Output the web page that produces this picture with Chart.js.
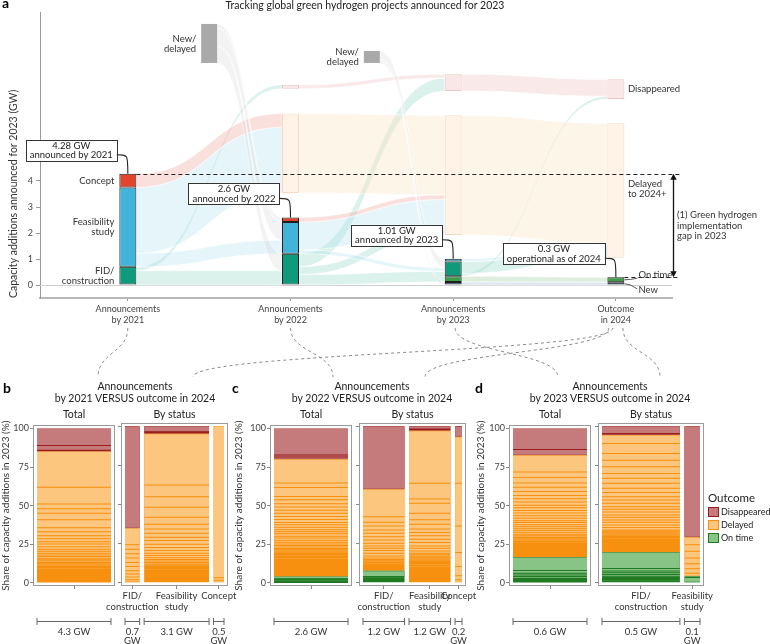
<!DOCTYPE html>
<html><head><meta charset="utf-8">
<script src="https://cdn.jsdelivr.net/npm/chart.js@4.4.1/dist/chart.umd.min.js"></script>
<style>
html,body{margin:0;padding:0;background:#fff;}
#wrap{position:relative;width:770px;height:644px;overflow:hidden;font-family:Lato,'DejaVu Sans',sans-serif;color:#222;}
canvas{position:absolute;left:0;}
.t{position:absolute;white-space:nowrap;line-height:1;}
</style></head><body><div id="wrap">
<canvas id="top" width="770" height="644" style="top:0"></canvas>
<canvas id="bT" width="770" height="225" style="top:419px"></canvas>
<canvas id="bS" width="770" height="225" style="top:419px"></canvas>
<canvas id="cT" width="770" height="225" style="top:419px"></canvas>
<canvas id="cS" width="770" height="225" style="top:419px"></canvas>
<canvas id="dT" width="770" height="225" style="top:419px"></canvas>
<canvas id="dS" width="770" height="225" style="top:419px"></canvas>
</div>
<script>
// ================= Panel a data (GW) =================
const columnLabels = [['Announcements','by 2021'],['Announcements','by 2022'],['Announcements','by 2023'],['Outcome','in 2024']];
const yTicksGW = [0,1,2,3,4,5];
// stacked bar segments, bottom to top: [stage, GW]
const bar2021 = [['fid',0.70],['feas',3.05],['concept',0.53]];
const bar2022 = [['fid',1.20],['feas',1.22],['concept',0.18]];
const bar2023 = [['new',0.12],['ontime',0.22],['fid',0.56],['feas',0.11]];
const bar2024 = [['new',0.11],['ontime',0.19]];
const barCaptions = [['4.28 GW','announced by 2021'],['2.6 GW','announced by 2022'],['1.01 GW','announced by 2023'],['0.3 GW','operational as of 2024']];
// pools: [column, from GW, to GW]
const delayedPool = [[1,3.54,6.60],[2,1.92,6.53],[3,1.05,6.22]];
const disappearedPool = [[1,7.55,7.70],[2,7.46,8.11],[3,7.15,7.91]];
const newDelayedPool = [[0.5,8.54,10.04],[1.5,8.54,9.00]];
const gapTopGW = 4.28, gapBottomGW = 0.3;
// flows: [from column, from lo, from hi, to column, to lo, to hi, kind]
const flows = [
 [0,0.00,0.55, 1,0.00,0.55,'fid'],
 [0,0.55,0.70, 1,7.55,7.70,'fid'],
 [0,0.70,1.22, 1,1.20,1.72,'feas'],
 [0,1.22,3.75, 1,3.54,6.07,'feas'],
 [0,3.75,4.28, 1,6.07,6.60,'concept'],
 [0.5,8.54,9.19, 1,0.55,1.20,'newdel'],
 [0.5,9.19,9.89, 1,1.72,2.42,'newdel'],
 [0.5,9.89,10.04, 1,2.42,2.60,'newdel'],
 [1,0.00,0.40, 2,0.12,0.52,'fid'],
 [1,0.40,0.70, 2,1.92,2.22,'fid'],
 [1,0.70,1.20, 2,7.46,7.96,'fid'],
 [1,1.20,1.35, 2,0.52,0.67,'feas'],
 [1,1.35,2.42, 2,2.22,3.29,'feas'],
 [1,2.42,2.60, 2,3.29,3.47,'concept'],
 [1,3.54,6.60, 2,3.47,6.53,'delayed'],
 [1,7.55,7.70, 2,7.96,8.11,'disappeared'],
 [1.5,8.54,8.66, 2,0.00,0.12,'newdel'],
 [1.5,8.66,9.00, 2,0.67,1.01,'newdel'],
 [2,0.00,0.12, 3,0.00,0.11,'new'],
 [2,0.12,0.34, 3,0.11,0.30,'ontime'],
 [2,0.34,0.45, 3,7.15,7.26,'fid'],
 [2,0.45,0.90, 3,1.05,1.50,'fid'],
 [2,0.90,1.01, 3,1.50,1.61,'feas'],
 [2,1.92,6.53, 3,1.61,6.22,'delayed'],
 [2,7.46,8.11, 3,7.26,7.91,'disappeared']
];

// ================= Panels b-d data (% shares, segments listed top to bottom) =================
const shareTicks = [0,25,50,75,100];
const bTotal = {gw:4.3, disappeared:[11.0,3.0,0.5,0.4],
  delayed:[23.1,10.8,3.0,2.9,4.3,5.1,2.7,2.6,1.9,1.9,1.5,1.7,1.7,1.3,1.2,1.1,1.0,1.1,1.0,0.9,0.9,0.8,0.8,0.8,0.7,0.7,0.7,0.6,0.6,0.6,0.6,0.5,0.5,0.5,0.5,0.5,0.4,0.4,0.4,0.4,0.4,0.3,0.3,0.3,0.3,0.3,0.3],
  onTime:[]};
const bFID = {gw:0.7, label:['FID/','construction'], disappeared:[65.2],
  delayed:[10.5,2.8,2.9,2.8,2.8,2.5,2.8,2.1,1.9,1.7,1.4,0.6], onTime:[]};
const bFeas = {gw:3.1, label:['Feasibility','study'], disappeared:[3.6,0.7,0.6],
  delayed:[32.7,7.4,6.8,6.4,4.4,3.0,2.7,2.6,2.1,2.3,2.2,1.9,1.7,1.4,1.5,1.1,1.0,0.9,0.9,0.8,0.8,0.7,0.7,0.7,0.6,0.6,0.6,0.6,0.5,0.5,0.5,0.5,0.5,0.4,0.4,0.4,0.4,0.4,0.3,0.3,0.3,0.3,0.3],
  onTime:[]};
const bConcept = {gw:0.5, label:['Concept'], disappeared:[], delayed:[96.8,1.5,1.7], onTime:[]};

const cTotal = {gw:2.6, disappeared:[17.2,1.3,1.3],
  delayed:[15.5,2.8,5.9,2.1,2.5,2.2,2.1,1.9,2.1,1.9,1.9,1.5,1.7,1.5,1.4,1.3,1.5,1.2,1.5,1.2,1.1,1.0,1.0,0.9,0.9,0.8,0.8,0.8,0.7,0.7,0.7,0.7,0.7,0.6,0.6,0.6,0.6,0.6,0.6,0.5,0.5,0.5,0.5,0.5,0.5,0.5,0.5,0.5,0.4,0.4,0.4,0.4,0.4,0.4,0.4,0.4],
  onTime:[1.5,0.7,0.7,0.7,0.6]};
const cFID = {gw:1.2, label:['FID/','construction'], disappeared:[40.3],
  delayed:[17.5,3.6,2.3,2.5,2.1,2.2,2.1,2.1,1.7,1.5,1.5,1.7,1.7,1.4,0.9,0.8,0.8,0.7,0.7,0.7,0.6,0.6,0.6,0.5,0.5,0.4,0.3],
  onTime:[3.7,0.7,0.7,0.6,0.6,0.7,0.7]};
const cFeas = {gw:1.2, label:['Feasibility','study'], disappeared:[1.8,0.6,0.6],
  delayed:[33.5,10.0,2.7,6.4,4.2,2.8,3.0,2.3,2.1,2.2,2.1,2.1,1.5,1.7,1.5,1.0,0.9,0.9,0.8,0.8,0.8,0.7,0.7,0.7,0.7,0.7,0.7,0.6,0.6,0.6,0.6,0.6,0.6,0.6,0.5,0.5,0.5,0.5,0.5,0.5,0.5,0.4,0.4,0.4,0.3,0.3],
  onTime:[]};
const cConcept = {gw:0.2, label:['Concept'], disappeared:[6.8], delayed:[29.7,27.2,17.0,8.8,6.0,2.5,2.0], onTime:[]};

const dTotal = {gw:0.6, disappeared:[13.6,3.8],
  delayed:[10.7,3.6,3.6,2.7,2.8,2.6,2.1,2.1,2.1,1.7,1.7,1.7,1.7,1.7,1.5,1.2,1.5,1.3,1.3,1.2,1.3,1.3,0.9,0.9,0.8,0.8,0.8,0.7,0.7,0.7,0.7,0.6,0.6,0.6,0.6,0.6,0.5,0.5,0.5,0.5,0.5,0.5,0.4,0.4,0.4,0.4],
  onTime:[8.5,1.9,1.1,1.0,1.1,0.6,0.6,0.6,0.6,0.6]};
const dFID = {gw:0.5, label:['FID/','construction'], disappeared:[4.7,1.0],
  delayed:[5.4,6.3,4.3,4.2,4.3,3.1,3.2,3.2,2.6,2.7,2.1,2.1,2.2,1.7,1.7,1.9,1.5,1.7,1.5,1.7,1.5,1.6,0.9,0.9,0.8,0.8,0.8,0.7,0.7,0.7,0.7,0.6,0.6,0.6,0.6,0.6,0.6,0.5,0.5,0.5,0.5,0.5,0.4,0.4,0.4],
  onTime:[10.4,1.6,1.1,1.1,1.1,0.7,0.7,0.7,0.7,0.7,0.7]};
const dFeas = {gw:0.1, label:['Feasibility','study'], disappeared:[70.9], delayed:[4.8,4.2,4.3,3.6,3.2,2.8,2.0], onTime:[0.7,3.5]};

// ================= styles =================
const FONT = "Lato, 'DejaVu Sans', sans-serif";
Chart.defaults.font.family = FONT;
Chart.defaults.color = '#333';
const stageFill = {fid:'#0f9a7c', feas:'#42b4d9', concept:'#e2452e', new:'#2b3e7e', ontime:'#3e9b48'};
const flowFill = {fid:'rgba(140,212,195,0.32)', feas:'rgba(175,225,238,0.32)', concept:'rgba(240,170,160,0.36)',
  newdel:'rgba(200,200,200,0.22)', delayed:'rgba(253,230,200,0.4)', disappeared:'rgba(240,200,200,0.4)',
  ontime:'rgba(150,200,150,0.3)', new:'rgba(150,165,205,0.3)'};
const OUT = {dis:{fill:'#c57b7b', line:'#9a1c1c'}, del:{fill:'#fdc67f', line:'#f7900f'}, on:{fill:'#88c486', line:'#1f7a22'}};

// ================= Panel a =================
function barDataset(segs, col){
  let acc = 0;
  const data = segs.map(([st, gw]) => { const d = {x:col, y:[acc, acc+gw]}; acc += gw; return d; });
  return {data, backgroundColor: segs.map(s => stageFill[s[0]]), borderColor:'#1d1d1d', borderWidth:1,
    barThickness:17, grouped:false, borderSkipped:false, inflateAmount:0};
}
function poolDataset(rows, fill, stroke, thick, bw){
  return {data: rows.map(([c,lo,hi]) => ({x:c, y:[lo,hi]})), backgroundColor:fill, borderColor:stroke,
    borderWidth:bw, barThickness:thick, grouped:false, borderSkipped:false, inflateAmount:0};
}
const topBars = [bar2021, bar2022, bar2023, bar2024];
const stageLabels = {fid:['FID/','construction'], feas:['Feasibility','study'], concept:['Concept']};

const flowPlugin = {
  id:'flows',
  beforeDatasetsDraw(chart){
    const {ctx, chartArea:a, scales:{x, y}} = chart;
    ctx.save();
    const y0 = Math.round(y.getPixelForValue(0)) + 0.5;
    ctx.strokeStyle = '#cfcfcf'; ctx.lineWidth = 1;
    ctx.beginPath(); ctx.moveTo(a.left, y0); ctx.lineTo(a.right, y0); ctx.stroke();
    flows.forEach(([c0,a0,b0,c1,a1,b1,k]) => {
      const h0 = Number.isInteger(c0) ? 8.5 : 8;
      const x0 = x.getPixelForValue(c0) + h0, x1 = x.getPixelForValue(c1) - 8.5;
      const ya0 = y.getPixelForValue(a0), yb0 = y.getPixelForValue(b0);
      const ya1 = y.getPixelForValue(a1), yb1 = y.getPixelForValue(b1);
      const xm = (x0 + x1) / 2;
      ctx.beginPath();
      ctx.moveTo(x0, yb0);
      ctx.bezierCurveTo(xm, yb0, xm, yb1, x1, yb1);
      ctx.lineTo(x1, ya1);
      ctx.bezierCurveTo(xm, ya1, xm, ya0, x0, ya0);
      ctx.closePath();
      ctx.fillStyle = flowFill[k]; ctx.fill();
      ctx.strokeStyle = 'rgba(255,255,255,0.85)'; ctx.lineWidth = 0.7; ctx.stroke();
    });
    ctx.restore();
  }
};

function arrowHead(ctx, x, y, dir){
  ctx.beginPath(); ctx.moveTo(x, y); ctx.lineTo(x-3.2, y - dir*6); ctx.lineTo(x+3.2, y - dir*6); ctx.closePath(); ctx.fill();
}

const annotPlugin = {
  id:'annot',
  afterDatasetsDraw(chart){
    const {ctx, chartArea:a, scales:{x, y}} = chart;
    ctx.save();
    ctx.textBaseline = 'middle';
    const px = v => x.getPixelForValue(v), py = v => y.getPixelForValue(v);
    ctx.strokeStyle = '#222'; ctx.lineWidth = 1; ctx.setLineDash([4,3]);
    let yy = Math.round(py(gapTopGW)) + 0.5;
    ctx.beginPath(); ctx.moveTo(px(0)+8.5, yy); ctx.lineTo(a.right+8, yy); ctx.stroke();
    yy = Math.round(py(gapBottomGW)) + 0.5;
    ctx.beginPath(); ctx.moveTo(px(3)+8.5, yy); ctx.lineTo(a.right+8, yy); ctx.stroke();
    ctx.setLineDash([]);
    const ax = a.right + 1.5, yT = py(gapTopGW), yB = py(gapBottomGW);
    ctx.lineWidth = 1.3; ctx.fillStyle = '#111'; ctx.strokeStyle = '#111';
    ctx.beginPath(); ctx.moveTo(ax, yT+4); ctx.lineTo(ax, yB-4); ctx.stroke();
    arrowHead(ctx, ax, yT, -1); arrowHead(ctx, ax, yB, 1);
    ctx.fillStyle = '#333'; ctx.font = '9.5px ' + FONT; ctx.textAlign = 'left';
    const rx = px(3) + 8.5 + 3.5;
    const dp = disappearedPool[disappearedPool.length-1];
    ctx.fillText('Disappeared', rx, py((dp[1]+dp[2])/2));
    ctx.fillText('Delayed', rx, yT + 10); ctx.fillText('to 2024+', rx, yT + 20);
    const mid = (yT + yB) / 2;
    ['(1) Green hydrogen','implementation','gap in 2023'].forEach((s,i) => ctx.fillText(s, a.right+5, mid - 10.5 + i*10.5));
    const bx = px(3) + 8.5;
    ctx.strokeStyle = '#333'; ctx.lineWidth = 0.8;
    ctx.beginPath(); ctx.moveTo(bx, py(0.2)); ctx.quadraticCurveTo(bx+6, py(0.2), bx+13, py(0.3)+1); ctx.stroke();
    ctx.beginPath(); ctx.moveTo(bx, py(0.05)); ctx.quadraticCurveTo(bx+6, py(0.05), bx+13, py(0)+4); ctx.stroke();
    ctx.fillText('On time', bx+14, py(0.3)-2);
    ctx.fillText('New', bx+14, py(0)+5);
    ctx.textAlign = 'right';
    let acc = 0;
    bar2021.forEach(([st, gw]) => {
      const cy = py(acc + gw/2); const lines = stageLabels[st];
      lines.forEach((s,i) => ctx.fillText(s, px(0)-8.5-5, cy + (i - (lines.length-1)/2)*10.5));
      acc += gw;
    });
    newDelayedPool.forEach(([c,lo,hi]) => {
      const cy = py((lo+hi)/2);
      ctx.fillText('New/', px(c)-8-5, cy-5); ctx.fillText('delayed', px(c)-8-5, cy+5);
    });
    topBars.forEach((segs, col) => {
      const tot = segs.reduce((s,[,v]) => s+v, 0);
      const cx = px(col), ty = py(tot);
      const [l1, l2] = barCaptions[col];
      ctx.font = '9.5px ' + FONT;
      const w = Math.max(ctx.measureText(l1).width, ctx.measureText(l2).width) + 8;
      const right = cx - 11, bottom = ty - 13, h = 21;
      ctx.fillStyle = '#fff'; ctx.fillRect(right-w, bottom-h, w, h);
      ctx.strokeStyle = '#333'; ctx.lineWidth = 1;
      ctx.strokeRect(Math.round(right-w)+0.5, Math.round(bottom-h)+0.5, Math.round(w), h);
      ctx.fillStyle = '#222'; ctx.textAlign = 'center';
      ctx.fillText(l1, right - w/2, bottom - 15); ctx.fillText(l2, right - w/2, bottom - 5.5);
      ctx.beginPath(); ctx.lineWidth = 1.1; ctx.strokeStyle = '#222';
      ctx.moveTo(right, bottom - 6); ctx.bezierCurveTo(cx, bottom - 6, cx, bottom - 6, cx, ty);
      ctx.stroke();
    });
    ctx.restore();
  },
  afterDraw(chart){
    const {ctx, chartArea:a, scales:{x}} = chart;
    const links = [[0,0,98],[3,-3,193],[1,0,333],[3,-7,425],[2,2,558],[3,7,660]];
    ctx.save(); ctx.setLineDash([3,3]); ctx.strokeStyle = '#8a8a8a'; ctx.lineWidth = 1;
    links.forEach(([col, dx, ex]) => {
      const sx = x.getPixelForValue(col) + dx, sy = a.bottom + 30, ey = 377, my = (sy + ey) / 2;
      ctx.beginPath(); ctx.moveTo(sx, sy); ctx.bezierCurveTo(sx, my, ex, my, ex, ey); ctx.stroke();
    });
    ctx.restore();
  }
};

new Chart(document.getElementById('top'), {
  type:'bar',
  data:{datasets:[
    ...topBars.map((s,i) => barDataset(s,i)),
    poolDataset(delayedPool, 'rgba(254,241,226,0.85)', 'rgba(240,208,180,0.8)', 17, 1),
    poolDataset(disappearedPool, 'rgba(248,228,228,0.9)', 'rgba(232,192,192,0.9)', 17, 1),
    poolDataset(newDelayedPool, '#a9a9a9', '#a9a9a9', 16, 0)
  ]},
  options:{
    responsive:false, animation:false, events:[],
    layout:{padding:{left:0, right:98, top:12, bottom:316}},
    plugins:{legend:{display:false}, tooltip:{enabled:false}},
    scales:{
      x:{type:'linear', min:-0.54, max:3.345, offset:false,
        afterBuildTicks:s => { s.ticks = columnLabels.map((_,i) => ({value:i})); },
        afterFit:s => { s.height = 30; },
        ticks:{autoSkip:false, maxRotation:0, padding:3, font:{size:9}, color:'#444', callback:v => columnLabels[v]},
        grid:{display:true, drawOnChartArea:false, offset:false, tickLength:3, color:'#999'},
        border:{display:true, color:'#b8b8b8', width:2}},
      y:{type:'linear', min:-0.5, max:10.5,
        afterBuildTicks:s => { s.ticks = yTicksGW.map(v => ({value:v})); },
        afterFit:s => { s.width = 40; },
        ticks:{padding:3, font:{size:9}, color:'#444'},
        grid:{drawOnChartArea:false, tickLength:4, color:'#999'},
        border:{display:true, color:'#999', width:1},
        title:{display:true, text:'Capacity additions announced for 2023 (GW)', align:'start', font:{size:10.5}, color:'#333', padding:{top:7, bottom:0}}}
    }
  },
  plugins:[flowPlugin, annotPlugin]
});

// ================= Panels b-d =================
function makeSub(id, frameL, frameR, padL, bars, showLabels){
  const innerW = frameR - frameL, M = 4, G = 4.5;
  const sumGW = bars.reduce((s,b) => s + b.gw, 0);
  const ppg = (innerW - 2*M - (bars.length-1)*G) / sumGW;
  let cur = M / ppg;
  const placed = bars.map(b => { const c = cur + b.gw/2; cur += b.gw + G/ppg; return Object.assign({}, b, {center:c, px:b.gw*ppg}); });
  const datasets = [];
  placed.forEach(b => {
    const segs = [...b.disappeared.map(v => ['dis',v]), ...b.delayed.map(v => ['del',v]), ...b.onTime.map(v => ['on',v])];
    const tot = segs.reduce((s,[,v]) => s + v, 0);
    let top = 100;
    const data = segs.map(([k,v]) => { const h = v*100/tot; const d = {x:b.center, y:[Math.max(top-h,0), top]}; top -= h; return d; });
    // project segments: light fill with a thin see-through edge revealing the outcome line colour beneath
    datasets.push({data, backgroundColor: segs.map(s => OUT[s[0]].fill), borderColor:'rgba(0,0,0,0)',
      borderWidth:{top:0.5, bottom:0.5, left:0, right:0}, borderSkipped:false, inflateAmount:0,
      barThickness:b.px, grouped:false, order:0});
    // outcome groups (line colour backdrop)
    const groups = [['dis', b.disappeared], ['del', b.delayed], ['on', b.onTime]];
    let gt = 100; const gdata = [], gcol = [];
    groups.forEach(([k, arr]) => {
      const h = arr.reduce((s,v) => s+v, 0)*100/tot;
      if (h > 0) { gdata.push({x:b.center, y:[Math.max(gt-h,0), gt]}); gcol.push(OUT[k].line); }
      gt -= h;
    });
    datasets.push({data:gdata, backgroundColor:gcol, borderWidth:0, inflateAmount:0, barThickness:b.px, grouped:false, order:1});
  });
  const framePlugin = {
    id:'frame',
    afterDraw(chart){
      const {ctx, chartArea:a, scales:{x}} = chart;
      ctx.save();
      ctx.strokeStyle = '#9a9a9a'; ctx.lineWidth = 1;
      ctx.strokeRect(Math.round(a.left)+0.5, Math.round(a.top)+0.5, Math.round(a.width)-1, Math.round(a.height)-1);
      ctx.font = '9.5px ' + FONT; ctx.fillStyle = '#333'; ctx.textAlign = 'center'; ctx.textBaseline = 'middle';
      placed.forEach(b => {
        const cx = x.getPixelForValue(b.center), hw = b.px/2;
        if (b.label) b.label.forEach((s,i) => ctx.fillText(s, cx, a.bottom + 10 + i*11));
        const sy = Math.round(a.bottom + 35) + 0.5;
        ctx.strokeStyle = '#666'; ctx.lineWidth = 1;
        ctx.beginPath();
        ctx.moveTo(cx-hw, sy); ctx.lineTo(cx+hw, sy);
        ctx.moveTo(cx-hw, sy-3.5); ctx.lineTo(cx-hw, sy+3.5);
        ctx.moveTo(cx+hw, sy-3.5); ctx.lineTo(cx+hw, sy+3.5);
        ctx.stroke();
        const lab = b.gw + ' GW';
        if (ctx.measureText(lab).width > b.px) { ctx.fillText(String(b.gw), cx, a.bottom + 46); ctx.fillText('GW', cx, a.bottom + 55); }
        else ctx.fillText(lab, cx, a.bottom + 46);
      });
      ctx.restore();
    }
  };
  new Chart(document.getElementById(id), {
    type:'bar', data:{datasets},
    options:{
      responsive:false, animation:false, events:[],
      layout:{padding:{left:padL, right:770-frameR, top:4, bottom:0}},
      plugins:{legend:{display:false}, tooltip:{enabled:false}},
      scales:{
        x:{type:'linear', min:0, max:innerW/ppg, offset:false,
          afterBuildTicks:s => { s.ticks = placed.map(b => ({value:b.center})); },
          afterFit:s => { s.height = 58; },
          ticks:{display:false},
          grid:{drawOnChartArea:false, offset:false, tickLength:3, color:'#888'},
          border:{display:false}},
        y:{type:'linear', min:-2, max:102,
          afterBuildTicks:s => { s.ticks = shareTicks.map(v => ({value:v})); },
          afterFit:s => { s.width = frameL - padL; },
          ticks:{display:showLabels, font:{size:9}, color:'#444', padding:1},
          grid:{drawOnChartArea:false, tickLength:3, color:'#888'},
          border:{display:false},
          title:{display:showLabels, text:'Share of capacity additions in 2023 (%)', font:{size:10}, color:'#333', padding:{top:0, bottom:0}}}
      }
    },
    plugins:[framePlugin]
  });
}
makeSub('bT', 33, 115, 0, [bTotal], true);
makeSub('bS', 121, 228, 117, [bFID, bFeas, bConcept], false);
makeSub('cT', 270, 352, 233, [cTotal], true);
makeSub('cS', 359, 466, 355, [cFID, cFeas, cConcept], false);
makeSub('dT', 509, 591, 475, [dTotal], true);
makeSub('dS', 598, 704, 594, [dFID, dFeas], false);

// ================= HTML text =================
const wrap = document.getElementById('wrap');
function txt(s, x, y, o = {}){
  const size = o.size || 10.5;
  const d = document.createElement('div'); d.className = 't'; d.textContent = s;
  d.style.fontSize = size + 'px'; d.style.fontWeight = o.weight || 'normal'; d.style.color = o.color || '#222';
  d.style.top = (y - size*0.55) + 'px';
  if ((o.align || 'center') === 'center') { d.style.left = x + 'px'; d.style.transform = 'translateX(-50%)'; }
  else d.style.left = x + 'px';
  wrap.appendChild(d); return d;
}
txt('a', 2, 4, {size:14, weight:'bold', align:'left', color:'#000'});
txt('Tracking global green hydrogen projects announced for 2023', 365, 6, {size:10.5});
const panels = [
  ['b', 3, 135, 'by 2021 VERSUS outcome in 2024', [33,115], [121,228]],
  ['c', 232, 372, 'by 2022 VERSUS outcome in 2024', [270,352], [359,466]],
  ['d', 475, 610, 'by 2023 VERSUS outcome in 2024', [509,591], [598,704]]
];
panels.forEach(([l, lx, cx, line2, tf, sf]) => {
  txt(l, lx, 389, {size:14, weight:'bold', align:'left', color:'#000'});
  txt('Announcements', cx, 387, {size:10.5});
  txt(line2, cx, 398.5, {size:10.5});
  txt('Total', (tf[0]+tf[1])/2, 415, {size:10.5});
  txt('By status', (sf[0]+sf[1])/2, 415, {size:10.5});
});
const legendItems = [['Disappeared', OUT.dis], ['Delayed', OUT.del], ['On time', OUT.on]];
txt('Outcome', 708, 498, {size:11.5, align:'left'});
legendItems.forEach(([name, c], i) => {
  const sw = document.createElement('div');
  sw.style.cssText = `position:absolute;left:708px;top:${507+i*13}px;width:9px;height:8px;background:${c.fill};border:1px solid ${c.line};`;
  wrap.appendChild(sw);
  txt(name, 721, 512 + i*13, {size:9, align:'left'});
});
</script></body></html>
